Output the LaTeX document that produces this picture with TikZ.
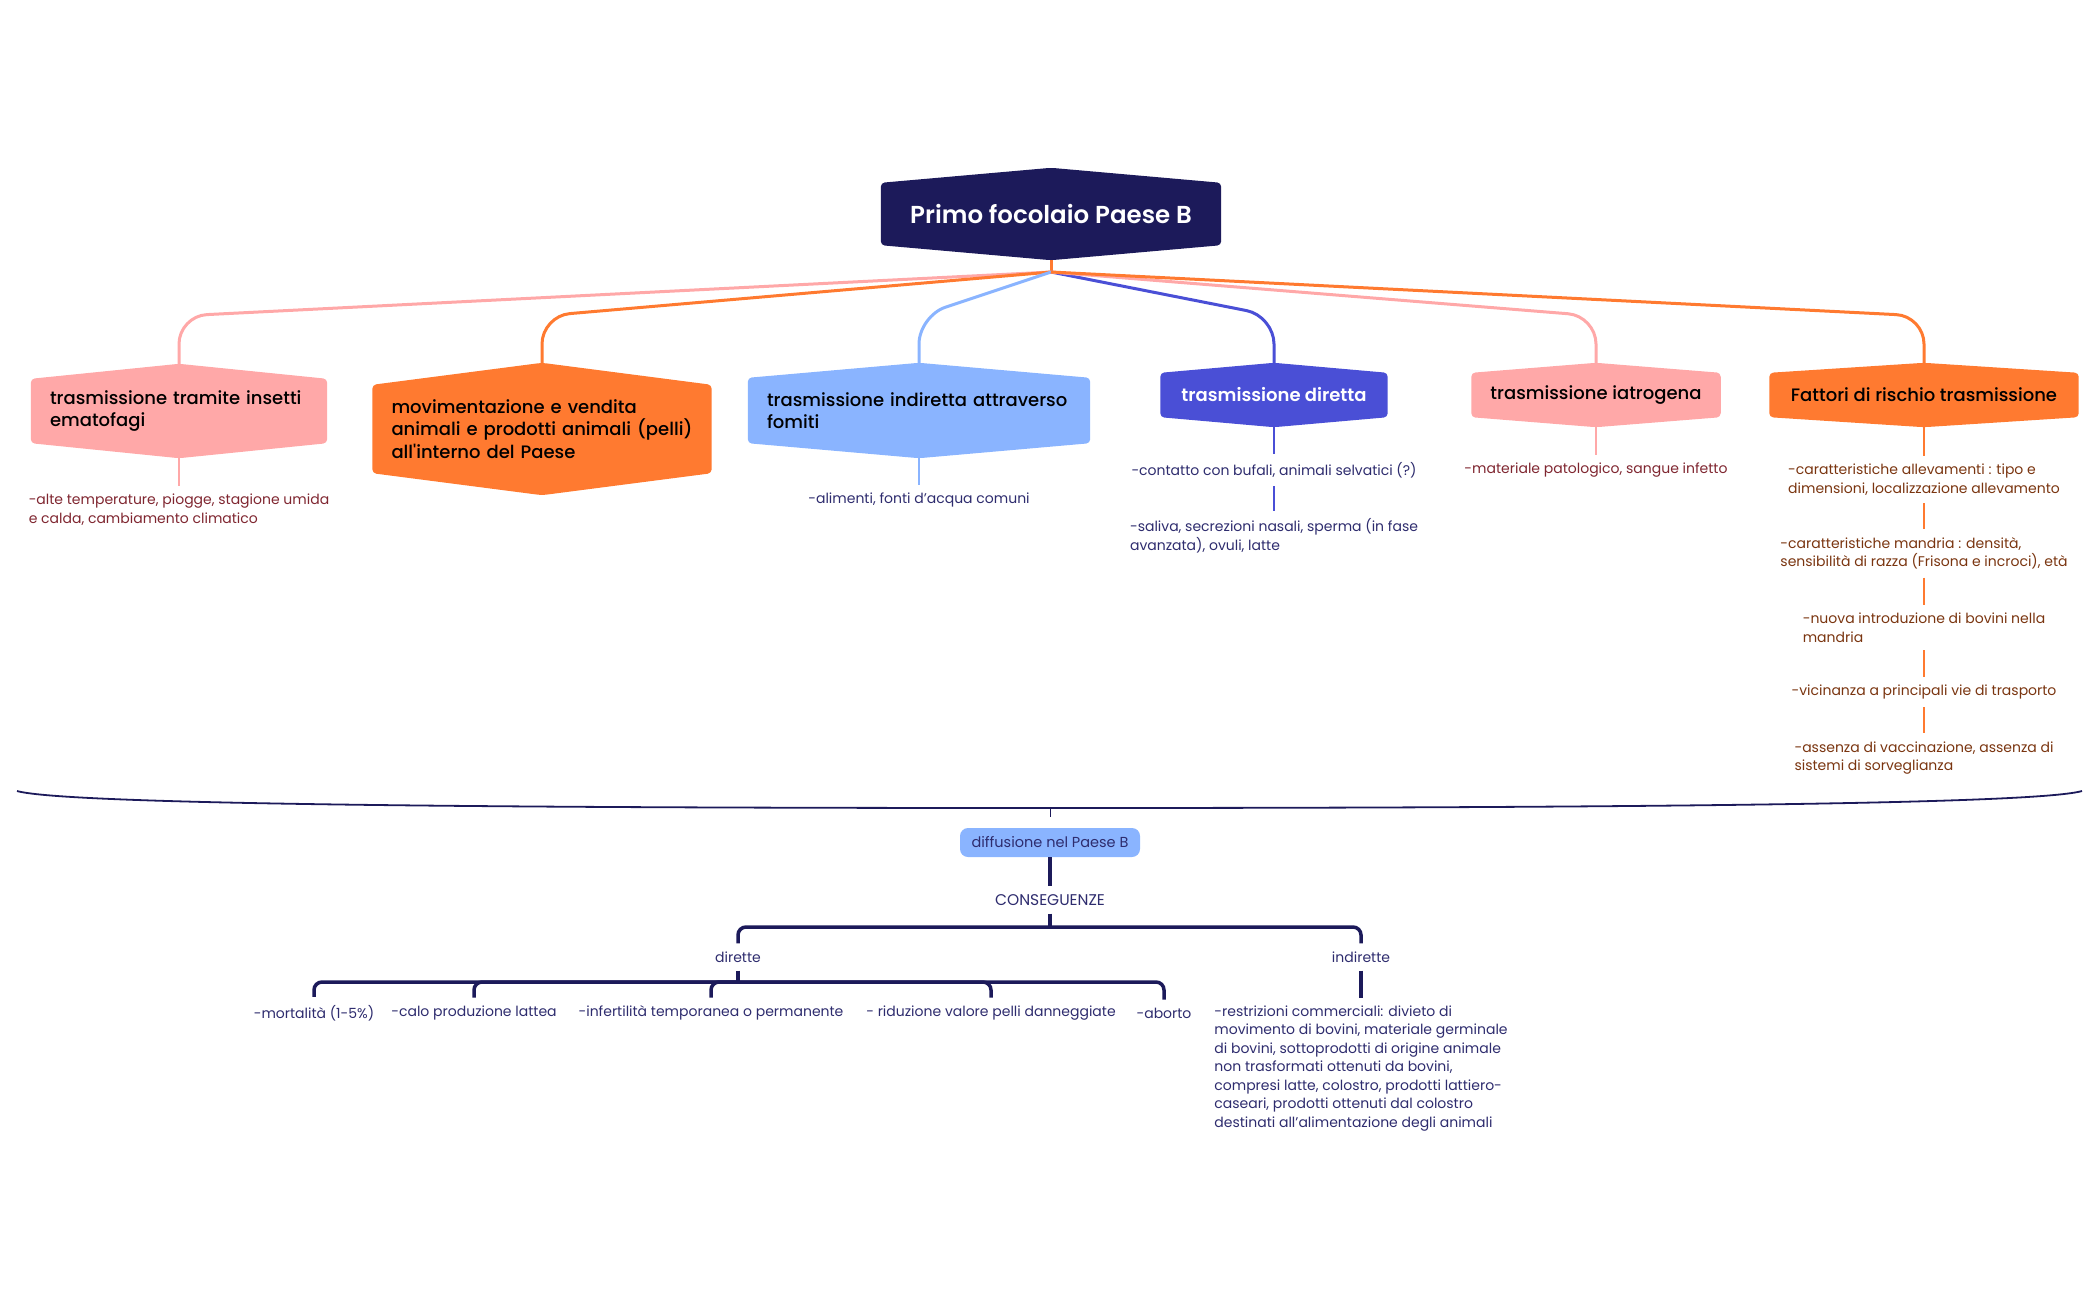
\documentclass[tikz,border=0pt]{standalone}
\usepackage{fontspec}
\setmainfont{Poppins}
\newfontfamily\medfont{Poppins}[UprightFont={* Medium}]
\newfontfamily\semifont{Poppins}[UprightFont={* SemiBold}]
\usetikzlibrary{backgrounds}

\definecolor{rootc}{HTML}{1C1A5A}
\definecolor{pinkc}{HTML}{FFA8A8}
\definecolor{orangec}{HTML}{FF7A30}
\definecolor{lbluec}{HTML}{8AB4FF}
\definecolor{bluec}{HTML}{4A4FD6}
\definecolor{maroonc}{HTML}{7F2630}
\definecolor{brownc}{HTML}{7A3510}
\definecolor{navyc}{HTML}{2E2C6E}

\tikzset{
  topic/.style={font=\medfont\fontsize{18}{22.5}\selectfont, inner xsep=19pt, inner ysep=0pt, align=left},
  note/.style={font=\fontsize{14}{18.5}\selectfont, align=left, inner xsep=3pt, inner ysep=8pt},
  leaf/.style={font=\fontsize{14}{18.5}\selectfont, text=navyc, inner xsep=3pt, inner ysep=8pt},
  conn/.style={line width=3pt, rounded corners=28pt},
  stem/.style={line width=2pt},
  tree/.style={rootc, line width=3.5pt},
}

\begin{document}
\begin{tikzpicture}[x=1pt, y=-1pt]
    \useasboundingbox (0,0) rectangle (2100,1299);
    \node (root) at (1051,214) [font=\semifont\fontsize{24.5}{28}\selectfont, text=white, minimum width=340pt, minimum height=62pt] {Primo focolaio Paese B};
    \coordinate (junc) at (1051,272);
    \coordinate (lev) at (0,316);

    \node (ins) at (179,411) [topic, text width=258pt, minimum height=64pt] {trasmissione tramite insetti\\ematofagi};
    \node (mov) at (542,429) [topic, text width=301pt, minimum height=88pt] {movimentazione e vendita\\animali e prodotti animali (pelli)\\all'interno del Paese};
    \node (ind) at (919,410.5) [topic, text width=304pt, minimum height=65pt] {trasmissione indiretta attraverso\\fomiti};
    \node (dir) at (1274,395) [topic, font=\semifont\fontsize{18}{22.5}\selectfont, text=white, minimum width=227pt, minimum height=44pt] {trasmissione diretta};
    \node (iat) at (1596,395) [topic, minimum width=249pt, minimum height=44pt] {trasmissione iatrogena};
    \node (fat) at (1924,395) [topic, minimum width=309pt, minimum height=44pt] {Fattori di rischio trasmissione};

    \node (t1) at (179,509.5) [note, text=maroonc] {-alte temperature, piogge, stagione umida\\e calda, cambiamento climatico};
    \node (t3) at (919,500) [note, text=navyc] {-alimenti, fonti d'acqua comuni};
    \node (t4a) at (1274,470) [note, text=navyc] {-contatto con bufali, animali selvatici (?)};
    \node (t4b) at (1274,536) [note, text=navyc] {-saliva, secrezioni nasali, sperma (in fase\\avanzata), ovuli, latte};
    \node (t5) at (1596,470) [note, text=maroonc] {-materiale patologico, sangue infetto};
    \node (f1) at (1924,479.5) [note, text=brownc] {-caratteristiche allevamenti : tipo e\\dimensioni, localizzazione allevamento};
    \node (f2) at (1924,553.5) [note, text=brownc] {-caratteristiche mandria : densità,\\sensibilità di razza (Frisona e incroci), età};
    \node (f3) at (1924,627.5) [note, text=brownc] {-nuova introduzione di bovini nella\\mandria};
    \node (f4) at (1924,692) [note, text=brownc] {-vicinanza a principali vie di trasporto};
    \node (f5) at (1924,758) [note, text=brownc] {-assenza di vaccinazione, assenza di\\sistemi di sorveglianza};

    \coordinate (brace) at (1050,808);
    \draw [rootc, line width=1.8pt] (17,791) .. controls (60,803) and (400,808) .. (brace) .. controls (1700,808) and (2040,803) .. (2082,791);
    \draw [rootc, line width=1pt] (brace) -- ++(0,9);
    \node (diff) at (1050,842.5) [fill=lbluec, rounded corners=8pt, minimum width=180pt, minimum height=29pt, text=navyc, font=\fontsize{14.5}{17}\selectfont] {diffusione nel Paese B};
    \node (cons) at (1050,900) [leaf, font=\fontsize{15.5}{18.5}\selectfont] {CONSEGUENZE};
    \coordinate (cbar) at (1050,927);
    \node (dte) at (738,957) [leaf] {dirette};
    \node (ite) at (1361,957) [leaf] {indirette};
    \coordinate (lbar) at (738,982);
    \node (m1) at (314,1013) [leaf] {-mortalità (1-5\%)};
    \node (m2) at (474,1013) [leaf] {-calo produzione lattea};
    \node (m3) at (711,1013) [leaf] {-infertilità temporanea o permanente};
    \node (m4) at (991,1013) [leaf] {- riduzione valore pelli danneggiate};
    \node (m5) at (1164,1013) [leaf] {-aborto};
    \node (rest) at (1361,1068.5) [leaf, align=left] {-restrizioni commerciali: divieto di\\movimento di bovini, materiale germinale\\di bovini, sottoprodotti di origine animale\\non trasformati ottenuti da bovini,\\compresi latte, colostro, prodotti lattiero-\\caseari, prodotti ottenuti dal colostro\\destinati all'alimentazione degli animali};

    \draw [tree] (diff) -- (cons);
    \draw [tree] (cons) -- (cbar);
    \draw [tree, rounded corners=8pt] (dte.north) |- (cbar);
    \draw [tree, rounded corners=8pt] (ite.north) |- (cbar);
    \draw [tree] (dte) -- (lbar);
    \foreach \m in {m1,m2,m3,m4,m5}
        \draw [tree, rounded corners=8pt] (\m.north) |- (lbar);
    \draw [tree] (ite) -- (rest);

    \begin{scope}[on background layer]
        \draw [orangec, line width=3pt] (root.south) -- (junc);
        \draw [conn, pinkc] (junc) -- (ins.north |- lev) -- (ins.north);
        \draw [conn, orangec] (junc) -- (mov.north |- lev) -- (mov.north);
        \draw [conn, lbluec] (junc) -- (ind.north |- lev) -- (ind.north);
        \draw [conn, bluec] (junc) -- (dir.north |- lev) -- (dir.north);
        \draw [conn, pinkc] (junc) -- (iat.north |- lev) -- (iat.north);
        \draw [conn, orangec] (junc) -- (fat.north |- lev) -- (fat.north);
        \draw [stem, pinkc] (ins.south) -- (t1);
        \draw [stem, lbluec] (ind.south) -- (t3);
        \draw [stem, bluec] (dir.south) -- (t4a);
        \draw [stem, bluec] (t4a) -- (t4b);
        \draw [stem, pinkc] (iat.south) -- (t5);
        \draw [stem, orangec] (fat.south) -- (f1);
        \draw [stem, orangec] (f1) -- (f2);
        \draw [stem, orangec] (f2) -- (f3);
        \draw [stem, orangec] (f3) -- (f4);
        \draw [stem, orangec] (f4) -- (f5);
        \foreach \n/\c/\h in {root/rootc/15, ins/pinkc/15, mov/orangec/22, ind/lbluec/15, dir/bluec/10, iat/pinkc/10, fat/orangec/10}
            \fill [\c, rounded corners=4pt] (\n.north west) -- ([yshift=\h pt]\n.north) -- (\n.north east) -- (\n.south east) -- ([yshift=-\h pt]\n.south) -- (\n.south west) -- cycle;
    \end{scope}
\end{tikzpicture}
\end{document}
